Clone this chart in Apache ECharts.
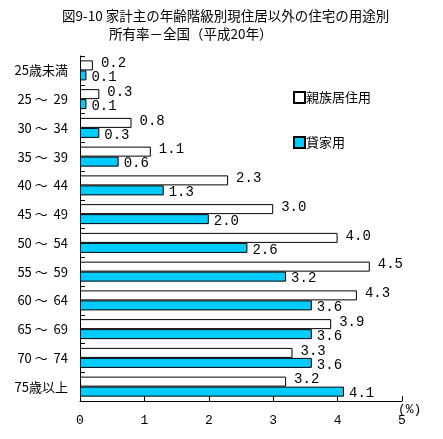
<!DOCTYPE html>
<html><head><meta charset="utf-8">
<script src="https://cdn.jsdelivr.net/npm/echarts@6/dist/echarts.min.js"></script>
<style>html,body{margin:0;padding:0;background:#fff}#c{width:443px;height:439px}</style>
</head><body><div id="c"></div>
<script>
const categories = ['25歳未満','25 ～  29','30 ～  34','35 ～  39','40 ～  44','45 ～  49','50 ～  54','55 ～  59','60 ～  64','65 ～  69','70 ～  74','75歳以上'];
const seriesNames = ['親族居住用','貸家用'];
const relativeUse = [0.2,0.3,0.8,1.1,2.3,3.0,4.0,4.5,4.3,3.9,3.3,3.2];
const rentalUse = [0.1,0.1,0.3,0.6,1.3,2.0,2.6,3.2,3.6,3.6,3.6,4.1];
const xTicks = [0,1,2,3,4,5];
const unitLabel = '(%)';

const FONT = '"Noto Sans CJK JP", "DejaVu Sans", sans-serif';
const MONO = '"Liberation Mono", "DejaVu Sans Mono", monospace';
const chart = echarts.init(document.getElementById('c'), null, {renderer:'canvas'});
const mkLbl = (dist, dy) => ({show:true, position:'right', distance:dist, offset:[0,dy], color:'#000',
  fontSize:14, fontFamily:MONO, formatter: p => p.value.toFixed(1)});
chart.setOption({
  animation:false,
  backgroundColor:'#fff',
  title:[
    {text:'図9-10 家計主の年齢階級別現住居以外の住宅の用途別', left:57, top:4,
     textStyle:{fontSize:13.5, fontWeight:'normal', color:'#000', fontFamily:FONT}},
    {text:'所有率－全国（平成20年）', left:104, top:22,
     textStyle:{fontSize:13.5, fontWeight:'normal', color:'#000', fontFamily:FONT}}
  ],
  graphic:[{type:'text', left:398, top:403,
    style:{text:unitLabel, fill:'#000', fontSize:13, fontFamily:MONO}}],
  legend:{orient:'vertical', left:288, top:86, itemGap:32, itemWidth:11, itemHeight:11,
    icon:'rect', data:seriesNames,
    textStyle:{fontSize:13, color:'#000', fontFamily:FONT, padding:[0,0,0,-4]}},
  grid:{left:80, right:41, top:56, bottom:38, containLabel:false},
  xAxis:{type:'value', min:0, max:5, interval:1,
    axisLine:{show:true, lineStyle:{color:'#000', width:1}},
    axisTick:{show:true, inside:true, length:5, lineStyle:{color:'#000'}},
    splitLine:{show:false},
    axisLabel:{color:'#000', fontSize:13, fontFamily:MONO, margin:13,
      formatter: v => xTicks.includes(v) ? String(v) : ''}
  },
  yAxis:{type:'category', data:categories, inverse:true,
    axisLine:{show:true, lineStyle:{color:'#000', width:1}},
    axisTick:{show:true, inside:true, length:5, lineStyle:{color:'#000'}},
    axisLabel:{color:'#000', fontSize:13, fontFamily:FONT, margin:12}
  },
  series:[
    {name:seriesNames[0], type:'bar', data:relativeUse, barWidth:10, barGap:'0%',
     itemStyle:{color:'#fff', borderColor:'#000', borderWidth:1}, label:mkLbl(8,-2)},
    {name:seriesNames[1], type:'bar', data:rentalUse, barWidth:10, barGap:'0%',
     itemStyle:{color:'#00CCFF', borderColor:'#000', borderWidth:1}, label:mkLbl(5,2)}
  ]
});
</script></body></html>
